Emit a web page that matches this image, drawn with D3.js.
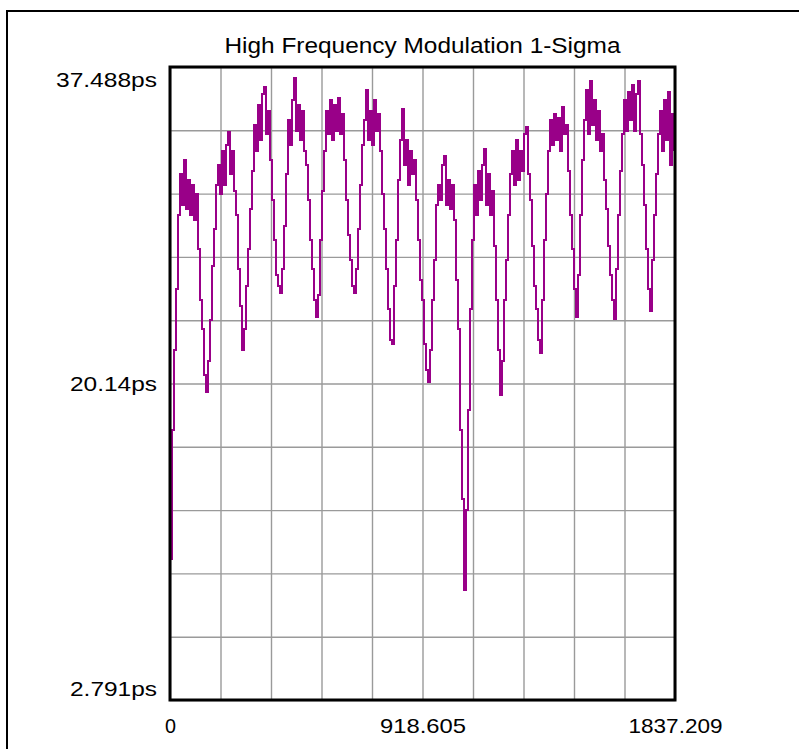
<!DOCTYPE html>
<html>
<head>
<meta charset="utf-8">
<script src="https://cdn.jsdelivr.net/npm/d3@7"></script>
<style>
  html, body { margin: 0; padding: 0; background: #fff; }
  svg { display: block; }
  text { font-family: "Liberation Sans", Arial, sans-serif; fill: #000; }
</style>
</head>
<body>
<svg id="chart" width="799" height="749"></svg>
<script>
// ---- data ----
const chartTitle = "High Frequency Modulation 1-Sigma";
const xDomain = [0, 1837.209];
const yDomain = [2.791, 37.488];
const xTickValues = [0, 918.605, 1837.209];
const xTickLabels = ["0", "918.605", "1837.209"];
const yTickValues = [37.488, 20.14, 2.791];
const yTickLabels = ["37.488ps", "20.14ps", "2.791ps"];
// jitter 1-sigma (ps), equally spaced samples across the x range
const sigmaValues = [
  10.5, 17.6, 22.0, 25.3, 29.4, 31.6, 29.9, 32.4, 29.7, 31.3,
  29.4, 31.0, 29.1, 30.5, 27.5, 24.7, 23.1, 20.6, 19.7, 21.4,
  23.6, 26.6, 28.6, 31.0, 32.1, 30.5, 32.9, 31.0, 33.2, 33.9,
  31.6, 32.9, 30.7, 29.4, 26.4, 24.4, 22.0, 23.1, 25.5, 27.5,
  29.7, 31.8, 34.3, 32.9, 35.4, 33.5, 36.0, 36.4, 33.8, 35.1,
  32.4, 30.2, 28.0, 26.1, 25.5, 25.1, 26.4, 28.8, 31.6, 34.6,
  33.2, 35.7, 36.9, 34.0, 35.4, 33.5, 35.1, 32.9, 32.1, 30.2,
  28.0, 26.4, 24.7, 23.8, 25.0, 28.0, 30.7, 32.9, 35.1, 33.8,
  35.7, 33.5, 35.4, 34.0, 35.8, 33.8, 34.9, 32.4, 30.2, 28.3,
  26.9, 25.5, 25.1, 26.4, 28.6, 31.0, 33.2, 34.6, 36.2, 33.5,
  35.1, 33.2, 35.7, 34.0, 34.9, 32.9, 30.5, 28.6, 26.4, 24.2,
  22.5, 22.3, 25.5, 28.0, 31.3, 33.5, 35.2, 32.1, 33.5, 31.0,
  32.9, 31.6, 32.4, 30.2, 28.0, 25.8, 24.7, 22.3, 20.9, 20.2,
  22.0, 24.7, 26.9, 29.9, 31.0, 30.2, 32.1, 32.6, 29.9, 31.3,
  29.7, 31.0, 29.1, 25.8, 23.1, 17.6, 13.8, 8.8, 13.2, 18.7,
  24.2, 28.0, 31.0, 29.4, 31.8, 30.2, 32.1, 33.0, 29.9, 31.6,
  29.4, 30.7, 27.7, 24.7, 22.0, 19.5, 21.4, 24.7, 26.9, 29.4,
  31.6, 32.9, 31.0, 33.5, 31.3, 32.9, 31.8, 33.8, 34.2, 31.6,
  30.2, 27.7, 25.5, 24.2, 22.5, 21.8, 24.7, 28.0, 30.5, 32.9,
  34.6, 33.2, 34.9, 33.5, 34.7, 32.9, 35.3, 33.8, 34.3, 31.8,
  29.4, 27.5, 25.3, 23.8, 26.1, 29.4, 32.4, 34.6, 36.2, 33.8,
  36.7, 34.3, 35.7, 33.5, 35.1, 32.9, 33.8, 31.3, 29.7, 27.7,
  26.1, 24.7, 23.7, 26.4, 29.4, 31.8, 33.8, 35.7, 34.0, 36.1,
  34.6, 36.5, 34.0, 36.0, 36.7, 33.8, 32.1, 29.9, 27.5, 25.3,
  24.1, 26.9, 29.4, 31.6, 33.8, 35.1, 32.9, 35.7, 33.5, 36.1,
  32.1, 34.9, 32.9
];

// ---- layout ----
const svg = d3.select("#chart");
const plot = { left: 170, right: 675, top: 67, bottom: 700 };
const lineColor = "#990088";
const gridColor = "#9a9a9a";

// outer frame
svg.append("rect")
  .attr("x", 7).attr("y", 11).attr("width", 900).attr("height", 900)
  .attr("fill", "none").attr("stroke", "#000").attr("stroke-width", 2);

const x = d3.scaleLinear().domain(xDomain).range([plot.left, plot.right]);
const y = d3.scaleLinear().domain(yDomain).range([plot.bottom, plot.top]);

// grid (10 divisions each way)
const gridX = d3.range(11).map(i => xDomain[0] + (xDomain[1] - xDomain[0]) * i / 10);
const gridY = d3.range(11).map(i => yDomain[0] + (yDomain[1] - yDomain[0]) * i / 10);

const gx = svg.append("g")
  .attr("transform", `translate(0,${plot.bottom})`)
  .call(d3.axisBottom(x).tickValues(gridX).tickSize(-(plot.bottom - plot.top)).tickFormat(""));
gx.select(".domain").remove();
gx.selectAll("line").attr("stroke", gridColor).attr("stroke-width", 1.4);

const gy = svg.append("g")
  .attr("transform", `translate(${plot.left},0)`)
  .call(d3.axisLeft(y).tickValues(gridY).tickSize(-(plot.right - plot.left)).tickFormat(""));
gy.select(".domain").remove();
gy.selectAll("line").attr("stroke", gridColor).attr("stroke-width", 1.4);

// data line
const n = sigmaValues.length;
const xs = sigmaValues.map((v, i) => xDomain[0] + (xDomain[1] - xDomain[0]) * i / (n - 1) * (504 / 505));
const line = d3.line()
  .x((d, i) => x(xs[i]))
  .y(d => y(d))
  .curve(d3.curveStepAfter);
svg.append("path")
  .datum(sigmaValues)
  .attr("d", line)
  .attr("fill", "none")
  .attr("stroke", lineColor)
  .attr("stroke-width", 2)
  .attr("shape-rendering", "crispEdges")
  .attr("stroke-linejoin", "miter");

// plot frame
svg.append("rect")
  .attr("x", plot.left).attr("y", plot.top)
  .attr("width", plot.right - plot.left).attr("height", plot.bottom - plot.top)
  .attr("fill", "none").attr("stroke", "#000").attr("stroke-width", 3);

// y axis labels
const yLabelWidths = [101, 87, 87];
const ya = svg.append("g")
  .attr("transform", `translate(${plot.left},0)`)
  .call(d3.axisLeft(y).tickValues(yTickValues).tickSize(0).tickPadding(13)
    .tickFormat((d, i) => yTickLabels[i]));
ya.select(".domain").remove();
ya.selectAll("text")
  .attr("font-size", 21)
  .attr("font-family", "Liberation Sans, Arial, sans-serif")
  .attr("textLength", (d, i) => yLabelWidths[i])
  .attr("lengthAdjust", "spacingAndGlyphs")
  .attr("dy", (d, i) => i === 0 ? "0.95em" : (i === 2 ? "-0.2em" : "0.35em"));

// x axis labels
const xLabelWidths = [11, 86, 94];
const xa = svg.append("g")
  .attr("transform", `translate(0,${plot.bottom})`)
  .call(d3.axisBottom(x).tickValues(xTickValues).tickSize(0).tickPadding(18)
    .tickFormat((d, i) => xTickLabels[i]));
xa.select(".domain").remove();
xa.selectAll("text")
  .attr("font-size", 21)
  .attr("font-family", "Liberation Sans, Arial, sans-serif")
  .attr("textLength", (d, i) => xLabelWidths[i])
  .attr("lengthAdjust", "spacingAndGlyphs");

// title
svg.append("text")
  .attr("x", (plot.left + plot.right) / 2)
  .attr("y", 53)
  .attr("text-anchor", "middle")
  .attr("font-size", 22)
  .attr("textLength", 396)
  .attr("lengthAdjust", "spacingAndGlyphs")
  .text(chartTitle);
</script>
</body>
</html>
